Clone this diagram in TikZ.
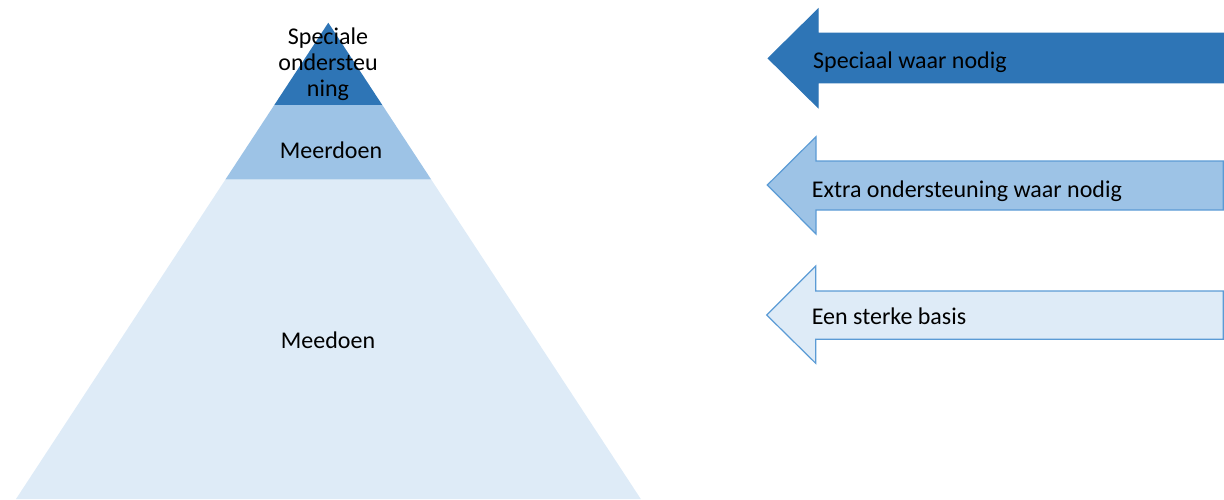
\documentclass[tikz,border=0pt]{standalone}
\usepackage{fontspec}
\setmainfont{Carlito}
\definecolor{darkblue}{HTML}{2E75B6}
\definecolor{midblue}{HTML}{9DC3E6}
\definecolor{paleblue}{HTML}{DEEBF7}
\definecolor{edgeblue}{HTML}{5B9BD5}
\begin{document}
\begin{tikzpicture}[x=1pt,y=-1pt]
            \tikzstyle{label}=[font=\fontsize{24}{26}\selectfont,inner sep=0pt,text=black]
            \tikzstyle{arrowshape}=[line width=1.2pt,line join=miter]
            \useasboundingbox (0,0) rectangle (1224,499);
            % pyramid tiers
            \fill[darkblue] (328.3,22.7) -- (382.3,105) -- (274.3,105) -- cycle;
            \fill[midblue] (274.3,105) -- (382.3,105) -- (431.2,179.5) -- (225.4,179.5) -- cycle;
            \fill[paleblue] (225.4,179.5) -- (431.2,179.5) -- (640.8,499) -- (16,499) -- cycle;
            % pyramid labels
            \node[label,align=center,anchor=base] (special) at (328,96.7) {Speciale\\ondersteu\\ning};
            \node[label,anchor=base] (meerdoen) at (331,158.3) {Meerdoen};
            \node[label,anchor=base] (meedoen) at (328,348.5) {Meedoen};
            % arrow 1
            \filldraw[arrowshape,fill=darkblue,draw=darkblue] (1224,33.3) -- (818,33.3) -- (818,9.3) -- (768.3,58.3) -- (818,107.3) -- (818,82.7) -- (1224,82.7) -- cycle;
            \node[label,anchor=base west] (speciaal) at (813,68.3) {Speciaal waar nodig};
            % arrow 2
            \filldraw[arrowshape,fill=midblue,draw=edgeblue] (1223.3,161) -- (816,161) -- (816,136.7) -- (767.3,185) -- (816,234) -- (816,210) -- (1223.3,210) -- cycle;
            \node[label,anchor=base west] (extra) at (811.7,197.7) {Extra ondersteuning waar nodig};
            % arrow 3
            \filldraw[arrowshape,fill=paleblue,draw=edgeblue] (1223.3,291) -- (815.7,291) -- (815.7,266) -- (766.7,315) -- (815.7,363.3) -- (815.7,339.3) -- (1223.3,339.3) -- cycle;
            \node[label,anchor=base west] (basis) at (811.7,324.3) {Een sterke basis};
        \end{tikzpicture}
\end{document}
